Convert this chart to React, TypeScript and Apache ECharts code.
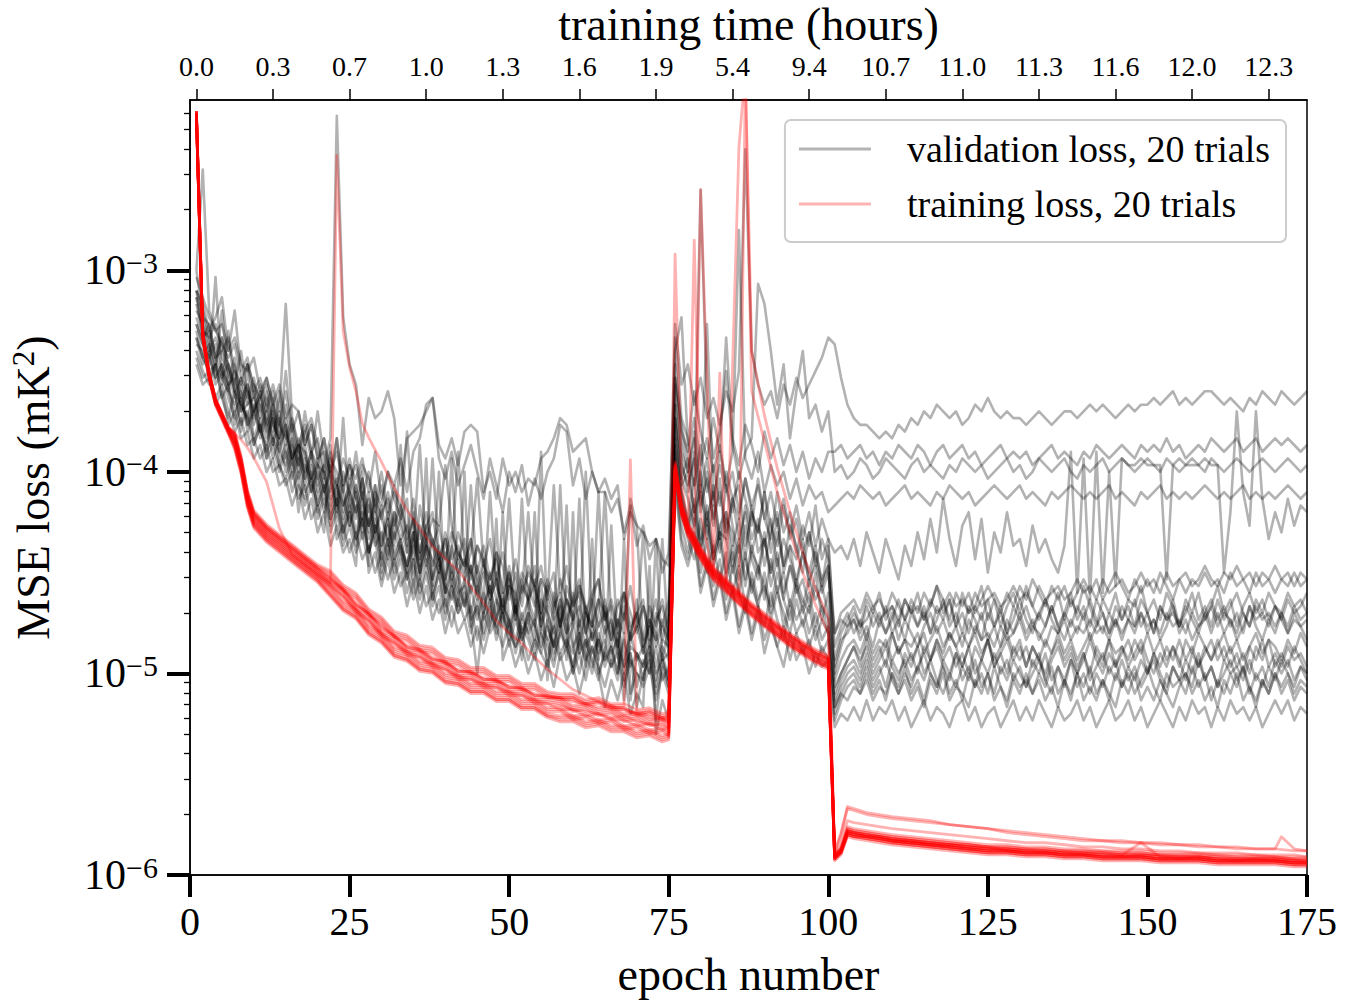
import React, { useEffect, useRef } from 'react';
import * as echarts from 'echarts';

const FONT = "'Liberation Serif', 'Times New Roman', serif";
const VAL_NAME = 'validation loss, 20 trials';
const TRN_NAME = 'training loss, 20 trials';

// top axis: epoch positions of the ticks and their training-time labels (hours)
const TOP_TICK_EPOCHS = [1, 13, 25, 37, 49, 61, 73, 85, 97, 109, 121, 133, 145, 157, 169];
const TOP_TICK_HOURS = ['0.0', '0.3', '0.7', '1.0', '1.3', '1.6', '1.9', '5.4', '9.4', '10.7', '11.0', '11.3', '11.6', '12.0', '12.3'];
// left axis: decades and minor ticks (loss values, mK^2)
const Y_MAJOR = [1e-6, 1e-5, 1e-4, 1e-3];
const Y_MINOR = [2e-6, 3e-6, 4e-6, 5e-6, 6e-6, 7e-6, 8e-6, 9e-6, 2e-5, 3e-5, 4e-5, 5e-5, 6e-5, 7e-5, 8e-5, 9e-5,
  2e-4, 3e-4, 4e-4, 5e-4, 6e-4, 7e-4, 8e-4, 9e-4, 2e-3, 3e-3, 4e-3, 5e-3, 6e-3];

// Validation loss per trial.
// Unit: code c means loss = 10^-(2 + c/30). Three parts: epochs 1-75, 76-100, 101-175.
const VAL_01 = [
  [30,37,41,44,40,47,46,51,48,53,50,55,52,56,54,58,56,60,57,61,59,55,7,37,44,47,56,49,52,51,48,52,62,55,54,53,51,49,56,58,55,59,54,53,54,63,60,64,58,62,60,63,61,62,58,57,55,52,53,57,56,55,60,63,61,64,62,70,66,68,69,71,70,73,74],
  [38,47,44,50,46,52,49,53,48,51,45,12,42,47,50,48,52,47,50,46,49,47,45,43,40],
  [41,46,50,52,53,53,54,55,54,55,53,54,52,53,51,52,50,51,52,51,53,52,50,51,49,51,52,51,52,52,53,52,51,52,53,52,51,51,52,51,50,51,50,51,52,51,50,51,50,50,49,50,49,48,50,49,50,49,48,48,49,50,49,50,51,49,50,48,49,50,48,49,50,49,48]];
const VAL_02 = [
  [30,15,36,39,41,43,41,46,44,47,49,46,50,53,48,54,51,56,53,58,57,60,55,62,59,61,58,63,57,64,60,62,58,63,57,55,50,49,58,61,57,62,59,56,60,64,58,62,66,60,63,59,65,61,64,60,58,53,54,62,58,64,60,63,63,66,64,69,65,71,68,73,70,75,72],
  [42,37,56,48,54,58,52,57,40,55,59,53,56,60,54,58,55,59,56,60,57,61,58,60,57],
  [57,56,58,57,56,58,57,59,57,58,56,57,58,56,57,59,57,56,58,57,56,58,57,59,58,57,56,58,57,58,57,59,58,57,56,58,57,58,59,57,58,56,57,58,57,56,57,58,56,57,56,57,55,57,56,58,57,56,57,55,56,57,56,55,57,56,55,57,56,55,56,55,56,57,56]];
const VAL_03 = [
  [34,37,38,43,40,44,47,42,49,46,51,48,53,55,50,56,59,54,58,62,58,61,65,60,63,66,61,68,63,65,70,64,67,71,66,72,68,66,73,70,75,69,72,76,71,73,78,72,74,79,75,80,74,77,81,76,79,83,77,80,78,84,79,76,82,85,80,78,84,81,79,86,82,80,85],
  [40,52,55,62,18,50,58,54,45,56,61,57,55,32,35,42,50,44,55,48,42,52,50,54,51],
  [60,59,61,60,58,59,61,60,58,59,60,61,59,58,60,59,60,61,59,60,58,59,60,59,61,60,59,58,60,59,61,60,58,59,60,59,58,60,61,59,60,59,58,60,59,58,59,60,59,58,59,60,58,59,60,59,58,59,60,58,59,60,59,58,59,60,59,58,59,60,59,58,59,60,59]];
const VAL_04 = [
  [38,41,44,39,46,48,44,51,50,47,54,50,56,52,58,55,60,57,63,59,64,61,66,62,68,63,69,65,70,66,72,67,71,74,69,75,70,76,72,78,73,77,80,74,78,81,75,79,83,76,82,78,84,79,83,80,86,79,84,82,87,81,85,83,79,86,82,88,84,81,87,83,89,85,86],
  [44,54,57,52,59,55,60,56,62,57,24,58,61,57,63,59,62,60,64,61,65,62,64,63,66],
  [65,64,63,64,62,63,64,63,65,64,63,62,64,63,64,65,63,64,62,63,64,63,65,64,63,62,63,64,63,62,64,63,64,65,63,64,63,62,63,64,63,64,63,62,64,63,64,65,63,64,63,62,64,63,64,63,64,63,62,63,64,63,64,63,62,64,63,64,63,64,63,62,63,64,63]];
const VAL_05 = [
  [33,35,39,37,34,42,40,45,43,48,46,50,47,51,35,52,56,53,57,55,60,57,62,58,61,59,64,60,66,62,67,63,65,69,64,70,66,71,68,73,69,72,74,70,75,71,76,73,78,74,79,75,77,80,76,78,81,76,79,82,77,80,83,79,81,84,79,82,77,83,80,85,81,83,79],
  [46,57,60,55,62,38,64,59,63,60,66,61,65,62,67,63,68,64,69,65,70,66,71,67,70],
  [72,71,73,70,74,69,72,75,70,73,76,71,74,69,73,67,72,64,70,74,68,66,73,67,75,69,72,66,71,70,74,68,72,70,73,75,71,57,78,58,79,57,78,60,77,58,59,59,58,59,59,59,76,59,58,59,59,59,58,59,59,75,66,51,63,68,51,64,70,66,69,64,68,65,66]];
const VAL_06 = [
  [40,44,42,47,45,49,52,48,54,51,56,53,58,55,60,57,63,59,61,65,62,67,64,69,65,70,66,72,68,71,67,73,70,75,71,76,72,78,74,77,79,75,80,77,82,78,83,79,81,85,80,84,82,86,81,85,83,88,82,86,84,89,83,87,85,88,84,90,86,87,89,85,91,86,88],
  [50,58,63,57,66,60,68,61,70,64,62,71,66,69,63,72,67,74,68,71,75,69,73,77,71],
  [84,82,83,81,83,82,80,82,81,80,82,79,81,80,82,79,81,80,78,80,79,81,78,80,79,78,80,79,77,79,78,80,77,79,78,77,79,78,76,78,77,79,76,78,77,76,78,77,75,77,76,78,75,77,76,75,77,76,74,76,77,75,76,74,76,75,77,75,76,74,76,75,77,75,76]];
const VAL_07 = [
  [35,39,40,45,41,46,43,49,47,51,48,53,50,55,52,58,55,61,57,59,63,60,62,66,61,64,68,63,69,66,64,70,67,72,68,73,69,71,75,70,76,72,74,70,77,73,78,75,80,74,81,76,79,77,82,78,75,83,79,81,84,78,82,86,80,83,87,81,85,79,86,82,84,88,83],
  [52,61,58,66,60,67,63,70,62,68,72,65,70,67,74,69,66,75,71,73,70,77,72,76,74],
  [88,84,82,80,83,79,81,78,82,80,83,79,81,78,82,80,77,81,79,83,78,81,80,77,82,79,83,80,78,81,77,80,82,79,81,78,82,79,81,77,80,83,79,81,78,82,79,80,77,81,79,82,78,80,83,79,81,78,82,80,77,81,79,83,80,78,81,79,82,80,81,78,80,79,81]];
const VAL_08 = [
  [41,42,46,44,49,47,53,50,52,56,53,58,55,59,61,58,62,64,60,66,63,68,65,70,66,71,67,72,69,74,70,75,72,76,73,78,74,79,75,81,77,80,78,83,79,82,80,85,81,84,86,82,84,87,83,85,88,83,86,89,84,87,90,85,88,91,86,89,87,92,88,90,86,91,89],
  [55,63,67,61,70,65,72,68,66,74,70,76,71,75,69,77,73,79,74,78,76,80,75,82,78],
  [90,86,83,82,84,80,83,81,84,82,79,82,80,83,81,84,80,82,79,83,81,84,80,82,79,83,81,84,80,82,80,83,81,79,82,84,81,83,80,82,79,82,84,81,83,80,82,79,83,81,84,80,82,81,83,80,82,84,81,79,82,80,83,81,84,80,82,81,83,80,82,84,81,83,82]];
const VAL_09 = [
  [37,40,39,43,46,44,48,50,47,52,49,54,51,54,45,54,59,56,61,58,63,59,65,61,66,62,67,64,69,65,71,66,70,68,73,68,74,70,73,76,71,75,73,78,74,79,74,77,80,75,81,77,79,82,76,81,78,83,79,82,80,84,79,83,81,85,82,84,64,80,86,83,85,82,87],
  [47,55,60,54,63,58,65,57,62,66,60,64,68,61,67,70,63,69,66,72,68,71,65,73,70],
  [86,83,81,84,82,85,81,83,80,84,82,85,81,83,80,84,82,79,83,81,84,80,82,85,81,83,80,84,82,79,82,84,81,83,80,83,81,78,82,80,83,79,81,84,80,82,80,83,79,81,84,80,82,79,83,81,78,82,80,83,79,82,80,78,81,83,79,81,78,80,82,79,81,80,78]];
const VAL_10 = [
  [39,43,41,46,44,47,51,49,53,50,55,52,56,58,54,60,57,62,59,64,61,66,63,68,64,69,65,70,67,72,68,73,71,74,70,75,72,77,73,78,75,79,76,81,77,80,77,82,78,83,79,84,81,85,80,83,86,81,85,87,82,86,84,88,83,87,85,89,84,88,86,90,85,88,87],
  [52,62,60,66,63,68,62,70,66,71,67,73,65,72,70,75,69,74,71,77,72,76,74,78,75],
  [84,81,80,79,81,78,80,79,81,78,80,82,79,81,78,80,77,79,82,78,80,78,81,79,77,79,81,78,80,77,79,76,78,80,77,79,77,80,78,76,78,76,79,77,75,77,79,76,78,76,78,75,77,79,76,78,76,77,75,77,76,78,75,77,76,78,75,77,76,78,76,77,75,77,76]];
const VAL_11 = [
  [33,36,40,38,42,40,45,47,44,49,47,51,48,53,55,52,57,54,59,56,61,58,60,63,59,64,61,66,62,67,63,68,65,70,67,72,68,70,74,69,73,71,75,72,77,74,76,72,78,75,80,76,78,74,81,77,80,78,82,79,76,81,83,79,82,80,84,78,83,81,85,80,83,79,84],
  [56,63,68,64,71,66,73,69,70,75,71,77,72,74,79,73,78,75,80,76,79,81,77,80,82],
  [89,85,84,82,85,83,86,82,84,81,85,82,84,86,83,81,84,82,85,83,86,82,84,81,85,83,86,82,84,81,84,82,85,83,80,83,85,82,84,81,85,83,81,84,82,85,82,84,81,83,82,85,83,80,84,82,85,83,81,84,81,84,82,85,83,80,83,85,82,84,81,84,82,83,85]];
const VAL_12 = [
  [42,45,47,44,49,52,48,54,51,56,53,58,56,60,57,63,60,65,62,67,64,69,66,71,68,72,69,74,70,75,71,76,73,78,74,79,75,80,77,82,78,81,79,84,80,85,81,83,86,82,87,83,85,88,84,86,89,84,88,86,90,85,88,91,86,89,87,92,88,90,91,87,93,89,92],
  [58,66,70,73,67,75,71,76,72,78,74,80,75,79,77,82,78,81,84,79,83,80,85,82,84],
  [92,90,88,86,89,85,88,86,89,84,87,85,88,86,84,88,85,87,84,86,89,86,84,87,85,88,86,84,87,85,89,86,88,85,87,84,87,85,88,86,84,87,89,85,87,86,88,85,87,84,87,85,88,86,89,85,87,84,86,88,86,84,87,85,88,86,84,87,85,86,88,85,87,84,86]];
const VAL_13 = [
  [31,34,37,39,38,42,40,44,45,43,48,46,50,47,52,54,51,56,53,58,55,60,57,62,58,63,59,61,65,60,66,62,67,64,69,65,70,67,68,72,68,73,70,75,71,74,70,76,72,77,73,78,75,77,74,79,76,78,74,80,77,81,78,76,82,79,83,78,81,84,80,83,79,85,81],
  [46,53,58,62,56,63,59,65,60,64,67,61,66,69,63,68,71,65,70,67,72,69,74,70,73],
  [93,90,88,86,88,86,89,87,85,88,86,89,87,90,86,88,85,88,86,89,87,90,86,88,85,89,87,85,88,86,89,86,88,90,87,85,88,86,89,87,90,86,88,85,89,87,85,88,86,90,87,89,86,88,85,88,86,89,87,85,88,86,89,87,90,86,88,85,89,87,89,86,88,87,89]];
const VAL_14 = [
  [43,46,45,49,47,51,54,52,56,55,58,56,60,59,62,60,64,62,67,65,69,66,70,68,72,69,73,71,75,72,76,73,77,75,79,76,80,78,81,79,83,79,82,80,85,81,84,82,87,83,86,84,88,85,87,89,85,88,86,90,87,91,86,89,92,88,91,89,93,90,92,89,94,90,93],
  [60,68,72,67,75,70,77,73,79,74,78,81,76,80,83,78,82,85,80,84,82,86,83,87,85],
  [94,91,89,88,90,87,90,88,86,89,91,87,89,86,90,88,86,89,91,87,89,86,90,88,85,89,87,90,86,88,86,89,87,91,88,86,89,87,90,88,85,88,90,87,89,86,89,87,85,88,90,87,89,86,88,91,87,89,86,88,85,88,86,89,87,90,86,88,85,89,87,89,86,88,90]];
const VAL_15 = [
  [36,38,42,40,43,45,49,46,48,51,49,53,52,55,53,58,56,57,61,59,60,64,62,65,63,67,64,68,65,70,66,71,68,72,69,74,71,73,75,72,77,73,76,74,79,75,79,76,81,77,82,78,80,83,79,81,84,79,83,80,85,81,83,79,84,82,86,81,85,83,87,82,86,83,85],
  [53,61,64,68,62,70,65,72,67,69,74,68,73,76,70,75,72,78,74,77,80,76,79,77,81],
  [95,92,90,89,91,88,91,89,92,88,90,88,91,89,87,90,92,88,90,87,91,89,92,88,90,87,90,88,91,89,92,88,90,87,91,89,92,88,90,87,91,89,87,90,88,92,89,91,88,90,87,90,92,89,91,88,90,87,91,89,92,88,90,89,91,88,91,89,92,88,90,88,91,89,90]];
const VAL_16 = [
  [33,39,43,41,45,47,45,50,52,48,54,51,55,57,53,59,56,61,58,63,60,65,62,67,63,68,64,69,66,71,67,72,70,74,69,75,71,76,73,78,74,78,77,80,76,81,77,82,79,84,80,85,81,83,86,82,87,84,86,83,88,84,87,85,89,86,90,84,94,87,89,86,97,88,91],
  [57,65,69,66,72,68,74,70,76,72,78,73,77,80,75,81,77,83,79,82,80,84,81,85,83],
  [96,93,91,90,92,89,92,90,88,91,93,90,92,89,91,88,91,93,90,92,89,91,88,92,90,93,89,91,88,90,92,90,88,91,93,89,91,88,92,90,93,90,92,89,91,88,91,89,92,90,88,91,93,89,91,90,92,88,91,89,92,90,88,91,89,93,90,92,89,91,88,90,92,89,91]];
const VAL_17 = [
  [40,43,45,44,47,50,48,53,51,55,52,57,55,59,56,61,58,63,61,65,62,67,64,69,66,70,67,72,68,73,70,74,71,76,73,77,74,79,75,80,77,81,78,82,80,84,79,83,81,86,82,85,83,87,84,88,83,87,85,89,85,88,86,90,87,89,86,91,87,95,90,88,92,87,91],
  [61,70,73,69,77,73,79,75,81,77,83,79,84,80,85,82,86,83,88,84,87,85,89,86,88],
  [97,94,92,91,93,90,93,91,94,90,92,89,93,91,94,90,92,89,93,91,94,90,92,90,93,89,92,94,90,92,91,93,90,92,89,93,91,94,90,92,89,93,91,94,90,92,90,93,91,89,92,94,90,92,91,93,89,92,90,94,91,93,90,92,89,92,94,91,93,90,92,90,93,91,92]];
const VAL_18 = [
  [34,40,38,43,42,44,48,46,50,49,52,49,54,51,56,53,58,60,57,62,59,63,61,65,62,66,63,68,64,67,70,66,68,72,67,73,70,74,71,76,72,77,73,75,78,74,79,76,81,77,78,82,79,76,83,79,82,80,84,78,83,80,85,81,84,82,86,80,85,83,87,82,85,81,86],
  [50,59,62,58,65,61,67,63,69,64,70,66,72,68,71,67,74,70,73,76,72,75,71,77,74],
  [91,88,86,85,87,84,87,85,86,84,87,85,86,84,87,85,83,86,84,86,84,86,83,85,84,86,83,85,84,82,85,83,84,86,83,84,82,85,83,84,82,84,83,85,82,84,82,83,81,84,82,84,81,83,82,84,81,83,82,80,83,81,82,84,81,83,80,82,81,83,81,83,80,82,81]];
const VAL_19 = [
  [38,41,43,46,44,48,50,47,53,51,54,56,52,57,59,56,61,58,63,60,66,62,67,64,68,65,70,67,71,69,73,69,72,75,71,76,73,77,74,79,76,80,77,82,78,81,79,84,80,82,85,81,84,82,87,83,86,82,88,84,87,85,89,84,88,86,90,85,89,87,91,86,90,88,92],
  [56,64,68,65,71,67,73,69,75,71,76,72,78,74,77,80,75,79,82,77,81,78,83,80,84],
  [95,93,94,92,93,91,94,92,93,90,93,91,94,92,95,91,93,90,94,92,93,95,91,93,90,94,92,95,91,93,90,93,91,94,92,95,91,93,90,94,92,94,91,93,95,91,93,90,94,92,94,91,93,95,92,90,93,91,94,92,95,91,93,90,94,92,95,91,93,90,93,91,94,92,93]];
const VAL_20 = [
  [44,47,46,50,48,53,51,55,54,58,56,60,58,62,61,65,62,67,64,69,66,71,68,72,70,74,71,75,72,77,73,78,75,80,76,81,77,82,79,84,80,84,82,86,83,87,83,86,88,85,89,86,90,87,91,88,92,87,91,89,93,89,92,90,95,91,94,90,96,93,95,92,99,94,97],
  [62,71,74,70,78,74,80,76,82,78,84,80,85,81,87,83,86,89,84,88,86,90,87,89,88],
  [98,96,97,95,97,94,97,95,96,94,97,95,98,96,94,97,95,96,98,95,94,97,95,98,96,95,98,96,94,97,95,97,94,96,98,95,97,96,94,97,95,98,96,94,97,96,94,97,95,98,96,94,96,98,95,97,94,96,95,98,95,97,94,96,95,97,95,98,96,94,96,94,97,95,96]];

// single-epoch jumps of the validation curves in epochs 1-75: [epoch, code]
const VAL_JUMPS = [
  [], [],
  [[8, 42], [20, 51], [31, 60]],
  [[4, 31], [21, 55], [30, 76], [41, 58], [53, 66]],
  [[7, 36], [28, 60], [50, 64]],
  [[11, 48], [17, 66], [36, 56], [58, 62]],
  [[5, 36], [34, 54], [62, 60], [68, 94]],
  [[13, 49], [43, 60], [66, 68]],
  [[24, 52], [47, 63], [56, 91], [70, 68]],
  [[14, 48], [38, 58], [55, 57], [73, 70]],
  [[19, 52], [45, 61], [52, 88], [64, 63]],
  [[9, 44], [29, 62], [59, 65]],
  [[16, 50], [35, 78], [40, 59], [57, 62]],
  [[22, 56], [49, 66], [68, 70]],
  [[12, 47], [33, 56], [52, 64], [60, 90], [71, 69]],
  [[26, 57], [44, 62], [61, 64]],
  [[6, 39], [37, 58], [54, 66]],
  [[18, 51], [42, 57], [65, 63], [74, 70]],
  [[23, 55], [39, 60], [45, 90], [60, 66]],
  [[27, 60], [48, 67], [63, 70], [72, 74]],
];

// Training loss per trial at these epochs.
// Unit: code c means loss = 10^-(c/100). Extra points hold single-epoch spikes.
const TRN_EPOCHS_A = [1,2,3,4,5,6,7,8,9,10,12,14,16,18,20,22,24,26,28,30,32,34,36,38,40,42,44,46,48,50,52,54,56,58,60,62,64,66,68,70,72,74,75];
const TRN_EPOCHS_B = [76,77,78,79,80,82,84,86,88,90,92,94,96,98,100];
const TRN_EPOCHS_C = [101,102,103,104,106,108,110,113,116,119,122,125,128,131,134,137,140,143,146,149,152,155,158,161,164,167,170,173,175];

const TRN_01 = [
  [222,332,352,365,372,379,384,396,413,423,430,435,440,445,450,455,330,360,383,395,408,419,428,437,443,449,457,465,474,480,485,492,498,503,508,511,514,516,518,520,522,523,524],
  [398,419,428,435,440,451,456,463,468,474,478,484,487,492,494],
  [591,588,578,579,580,581,582,583,584,585,586,587,587,588,588,589,589,590,590,590,591,591,591,592,592,592,592,593,593],
  [[23,243],[25,348],[27,376]]];
const TRN_02 = [
  [222,332,352,365,372,379,381,384,388,393,405,428,441,446,451,456,462,468,474,480,485,489,492,495,498,501,503,505,507,509,511,513,515,516,518,519,520,522,521,524,525,526,527],
  [399,419,429,435,441,451,457,463,469,474,479,484,488,492,495],
  [591,588,579,580,581,582,583,584,585,586,587,588,588,589,589,590,590,591,591,591,592,592,592,593,593,593,593,594,594],
  []];
const TRN_03 = [
  [221,331,351,364,371,378,382,394,411,421,428,433,438,443,448,453,459,466,470,477,481,487,489,493,494,499,499,503,503,507,507,511,511,513,513,516,515,518,518,521,520,523,522],
  [292,405,427,433,439,449,455,461,467,472,477,482,486,490,493],
  [590,587,577,578,579,580,581,582,583,584,585,586,586,587,587,588,588,589,589,589,590,590,590,591,591,591,591,592,592],
  []];
const TRN_04 = [
  [223,333,353,366,373,380,387,399,416,426,433,438,443,448,453,459,466,470,478,482,489,491,496,497,502,503,507,507,511,511,515,515,519,519,523,522,525,524,528,527,530,529,531],
  [400,420,430,285,420,452,458,464,470,475,480,485,489,493,496],
  [592,589,580,581,581,582,583,584,585,586,587,588,588,589,589,590,590,591,591,591,592,592,592,593,593,593,593,594,594],
  []];
const TRN_05 = [
  [221,331,351,364,371,378,381,393,410,420,427,432,437,442,447,451,458,462,470,474,481,483,488,489,494,495,499,499,503,503,507,507,511,512,512,515,514,517,517,520,519,522,521],
  [397,417,427,433,260,448,455,461,467,472,477,481,486,490,493],
  [590,587,577,578,579,580,581,582,583,584,585,586,586,587,587,588,588,588,589,589,590,590,590,590,591,591,591,592,592],
  []];
const TRN_06 = [
  [222,332,352,365,372,379,385,397,414,424,431,436,441,446,451,457,462,470,474,482,485,491,492,497,498,503,503,507,507,511,511,515,515,518,518,521,520,523,523,526,525,528,527],
  [399,419,429,435,441,451,457,239,340,372,398,420,440,458,472],
  [591,588,579,580,581,582,583,584,585,586,587,588,588,589,589,590,590,591,591,591,592,592,592,593,593,593,593,594,594],
  [[87,200]]];
const TRN_07 = [
  [222,332,352,365,372,379,383,395,412,422,429,434,439,444,449,454,458,466,470,478,481,487,488,493,494,499,499,503,503,507,507,511,511,512,516,515,518,517,521,520,523,522,524],
  [398,418,428,434,440,450,456,462,360,385,410,430,450,466,480],
  [591,588,578,579,580,581,582,583,584,585,586,587,587,588,588,589,589,589,590,590,591,591,591,592,592,592,592,593,593],
  [[87,205]]];
const TRN_08 = [
  [223,333,353,366,373,380,388,400,417,427,434,439,444,449,454,461,468,472,480,484,491,493,498,499,504,505,509,509,513,513,517,517,521,522,522,525,524,527,527,530,529,532,531],
  [401,421,431,437,443,453,459,465,471,476,481,486,490,494,497],
  [592,589,580,581,582,583,584,585,586,587,588,589,589,590,590,591,591,592,592,592,593,593,593,594,594,594,594,595,595],
  [[83,351]]];
const TRN_09 = [
  [221,331,351,364,371,378,381,393,410,420,427,432,437,442,447,450,457,461,469,473,480,482,487,488,493,494,498,498,502,502,506,506,510,511,511,514,513,516,516,519,518,521,520],
  [396,416,426,432,438,448,454,460,466,471,476,481,485,489,492],
  [589,580,567,568,570,571,572,573,574,575,576,577,579,580,581,582,583,583,584,584,585,585,586,586,587,587,587,588,588],
  [[69,394]]];
const TRN_10 = [
  [222,332,352,365,372,379,385,397,414,424,431,436,441,446,451,456,461,469,473,481,484,490,491,496,497,502,502,506,506,510,510,514,514,515,519,518,521,520,524,523,526,525,527],
  [398,418,428,434,440,450,456,462,468,473,478,483,487,491,494],
  [591,588,578,579,580,581,582,583,584,585,586,587,587,588,588,589,589,590,590,584,591,591,591,592,592,592,592,593,593],
  []];
const TRN_11 = [
  [222,332,352,365,372,379,383,395,412,422,429,434,439,444,449,455,459,467,471,479,482,488,489,494,495,500,500,504,504,508,508,512,512,513,517,516,519,518,522,521,524,523,525],
  [397,417,427,433,439,449,455,461,467,472,477,482,486,490,493],
  [590,587,578,579,580,581,582,583,584,585,585,586,587,587,588,588,589,589,590,590,590,591,591,591,592,592,592,592,593],
  []];
const TRN_12 = [
  [223,333,353,366,373,380,386,398,415,425,432,437,442,447,452,458,465,469,477,481,488,490,495,496,501,502,506,506,510,510,514,514,518,518,522,521,524,523,527,526,529,528,530],
  [400,420,430,436,442,452,458,464,470,475,480,485,489,493,496],
  [592,589,579,580,581,582,583,584,585,586,587,588,588,589,589,590,590,591,591,591,592,592,592,593,593,593,593,594,594],
  []];
const TRN_13 = [
  [221,331,351,364,371,378,382,394,411,421,428,433,438,443,448,452,459,463,471,475,482,484,489,490,495,496,500,500,504,504,508,508,512,512,512,515,514,517,517,520,519,522,521],
  [396,416,426,432,438,448,454,460,466,471,476,481,485,489,492],
  [590,584,573,574,575,576,577,578,579,580,581,582,583,584,584,585,586,586,587,587,588,588,589,589,589,590,590,590,591],
  []];
const TRN_14 = [
  [223,333,353,366,373,380,387,399,416,426,433,438,443,448,453,460,467,471,479,483,490,492,497,498,503,504,508,508,512,512,516,516,520,521,521,524,523,526,526,529,528,531,530],
  [401,421,431,437,443,453,459,465,471,476,481,486,490,494,497],
  [592,589,580,581,582,583,584,585,586,587,588,589,589,590,590,591,591,592,592,592,593,593,593,594,594,594,594,595,595],
  []];
const TRN_15 = [
  [221,331,351,364,371,378,380,392,409,419,426,431,436,441,446,449,456,460,468,472,479,481,486,487,492,493,497,497,501,501,505,505,509,510,510,513,512,515,515,518,517,520,519],
  [395,415,425,431,437,447,453,459,465,470,475,480,484,488,491],
  [588,579,566,567,569,570,571,572,573,575,576,577,578,579,580,581,582,583,583,584,584,585,585,586,586,587,587,587,588],
  [[171,581]]];
const TRN_16 = [
  [222,332,352,365,372,379,384,396,413,423,430,435,440,445,450,455,460,468,472,480,483,489,490,495,496,501,501,505,505,509,509,513,513,514,518,517,520,519,523,522,525,524,526],
  [399,418,429,434,441,450,457,462,469,473,479,483,488,491,495],
  [591,587,579,579,581,581,583,583,585,585,586,586,588,588,589,589,590,590,591,590,591,592,591,592,593,592,593,593,594],
  []];
const TRN_17 = [
  [223,333,353,366,373,380,386,398,415,425,432,437,442,447,452,457,464,468,476,480,487,489,494,495,500,501,505,505,509,509,513,513,517,517,521,520,523,522,526,525,528,527,529],
  [400,419,430,435,442,451,458,463,470,474,480,484,489,492,496],
  [591,588,579,580,581,582,583,584,585,586,587,587,588,589,589,590,590,591,591,591,592,592,592,593,593,593,593,594,594],
  []];
const TRN_18 = [
  [224,334,354,367,374,381,389,401,418,428,435,440,445,450,455,462,469,473,481,485,492,494,499,500,505,506,510,510,514,514,518,518,522,524,524,527,526,529,529,532,531,534,533],
  [402,422,432,438,444,454,460,466,472,477,482,487,491,495,498],
  [593,590,581,582,583,584,585,586,587,588,589,590,590,591,591,592,592,593,593,593,594,594,594,595,595,595,595,596,596],
  []];
const TRN_19 = [
  [221,331,351,364,371,378,382,394,411,421,428,433,438,443,448,453,458,465,471,476,482,486,488,492,495,498,500,502,504,506,508,510,512,512,514,515,517,516,520,519,521,522,523],
  [397,417,427,433,439,449,455,461,467,472,477,482,486,490,493],
  [590,586,576,577,578,579,580,581,582,583,584,585,585,586,586,587,587,588,588,588,589,589,589,590,590,590,591,591,591],
  []];
const TRN_20 = [
  [224,334,354,367,374,381,388,400,417,427,434,439,444,449,454,461,468,472,480,484,491,493,498,499,504,505,509,509,513,513,517,517,521,523,523,526,525,528,528,531,530,533,532],
  [401,421,431,437,443,453,459,465,471,476,481,486,490,494,497],
  [592,589,580,581,582,583,584,585,586,587,588,589,589,590,590,591,591,592,592,592,593,593,593,594,594,594,594,595,595],
  []];

const VAL_TRIALS = [VAL_01, VAL_02, VAL_03, VAL_04, VAL_05, VAL_06, VAL_07, VAL_08, VAL_09, VAL_10,
  VAL_11, VAL_12, VAL_13, VAL_14, VAL_15, VAL_16, VAL_17, VAL_18, VAL_19, VAL_20];
const TRN_TRIALS = [TRN_01, TRN_02, TRN_03, TRN_04, TRN_05, TRN_06, TRN_07, TRN_08, TRN_09, TRN_10,
  TRN_11, TRN_12, TRN_13, TRN_14, TRN_15, TRN_16, TRN_17, TRN_18, TRN_19, TRN_20];

// the plot's value axis is in decades: log10(loss)
const valLog = (c: number) => -(2 + c / 30);
const trnLog = (c: number) => -c / 100;

function valPoints(t: number[][], jumps: number[][]) {
  const p1 = t[0].slice();
  jumps.forEach((j) => { if (j[0] >= 1 && j[0] <= p1.length) p1[j[0] - 1] = j[1]; });
  const pts: number[][] = [];
  p1.forEach((c, i) => pts.push([1 + i, valLog(c)]));
  t[1].forEach((c, i) => pts.push([76 + i, valLog(c)]));
  t[2].forEach((c, i) => pts.push([101 + i, valLog(c)]));
  return pts;
}

function trnPoints(t: any[]) {
  const pts: number[][] = [];
  const grids = [TRN_EPOCHS_A, TRN_EPOCHS_B, TRN_EPOCHS_C];
  for (let p = 0; p < 3; p++) {
    const vals: number[] = t[p];
    const eps = grids[p];
    for (let i = 0; i < Math.min(vals.length, eps.length); i++) pts.push([eps[i], trnLog(vals[i])]);
  }
  (t[3] as number[][]).forEach((e) => pts.push([e[0], trnLog(e[1])]));
  pts.sort((a, b) => a[0] - b[0]);
  return pts;
}

function buildOption() {
  const VAL_COLOR = 'rgba(0,0,0,0.3)';
  const TRN_COLOR = 'rgba(255,0,0,0.3)';
  const series: any[] = [];
  VAL_TRIALS.forEach((t, k) => series.push({
    type: 'line', name: VAL_NAME, data: valPoints(t, VAL_JUMPS[k] || []), xAxisIndex: 0, yAxisIndex: 0,
    symbol: 'none', showSymbol: false, silent: true, clip: true, z: 2,
    color: VAL_COLOR, lineStyle: { color: VAL_COLOR, width: 2.6, join: 'round' },
    emphasis: { disabled: true },
  }));
  TRN_TRIALS.forEach((t) => series.push({
    type: 'line', name: TRN_NAME, data: trnPoints(t), xAxisIndex: 0, yAxisIndex: 0,
    symbol: 'none', showSymbol: false, silent: true, clip: true, z: 3,
    color: TRN_COLOR, lineStyle: { color: TRN_COLOR, width: 2.8, join: 'round' },
    emphasis: { disabled: true },
  }));

  const majorLog = Y_MAJOR.map((v) => Math.log10(v));
  const minorLog = Y_MINOR.map((v) => Math.log10(v));
  const black = '#000000';

  return {
    animation: false,
    backgroundColor: '#ffffff',
    textStyle: { fontFamily: FONT, color: black },
    grid: {
      left: 190, right: 47, top: 100, bottom: 129,
      show: true, borderColor: black, borderWidth: 1.5, backgroundColor: 'transparent',
      outerBoundsMode: 'none', containLabel: false,
    },
    legend: {
      show: true, orient: 'vertical', right: 68, top: 120,
      data: [
        { name: VAL_NAME, icon: 'rect', itemStyle: { color: '#b3b3b3' } },
        { name: TRN_NAME, icon: 'rect', itemStyle: { color: '#ffb3b3' } },
      ],
      itemWidth: 72, itemHeight: 3, itemGap: 17,
      padding: [10, 16, 19, 14],
      textStyle: { fontSize: 38, color: black, fontFamily: FONT, padding: [0, 0, 0, 31] },
      backgroundColor: 'rgba(255,255,255,0.8)', borderColor: '#cccccc', borderWidth: 2, borderRadius: 6,
      selectedMode: false,
    },
    xAxis: [
      {
        type: 'value', position: 'bottom', min: 0, max: 175, interval: 25,
        axisLine: { show: true, lineStyle: { color: black, width: 1.5 } },
        axisTick: { show: true, length: 22, lineStyle: { color: black, width: 4 } },
        axisLabel: { fontSize: 40, color: black, fontFamily: FONT, margin: 26 },
        splitLine: { show: false },
        name: 'epoch number', nameLocation: 'middle', nameGap: 76,
        nameTextStyle: { fontSize: 46, color: black, fontFamily: FONT },
      },
      {
        type: 'value', position: 'top', min: 0, max: 175,
        axisLine: { show: true, lineStyle: { color: black, width: 1.5 } },
        axisTick: { show: true, customValues: TOP_TICK_EPOCHS, length: 11, lineStyle: { color: black, width: 1.5 } },
        axisLabel: {
          customValues: TOP_TICK_EPOCHS, fontSize: 28, color: black, fontFamily: FONT, margin: 20,
          formatter: (v: number) => {
            const i = TOP_TICK_EPOCHS.indexOf(Math.round(v));
            return i >= 0 ? TOP_TICK_HOURS[i] : '';
          },
        },
        splitLine: { show: false },
        name: 'training time (hours)', nameLocation: 'middle', nameGap: 50,
        nameTextStyle: { fontSize: 46, color: black, fontFamily: FONT },
      },
    ],
    yAxis: [
      {
        type: 'value', position: 'left', min: -6, max: Math.log10(0.007),
        axisLine: { show: true, lineStyle: { color: black, width: 1.5 } },
        axisTick: { show: true, customValues: majorLog, length: 23, lineStyle: { color: black, width: 4 } },
        axisLabel: {
          customValues: majorLog, margin: 32,
          formatter: (v: number) => '{b|10}{s|\u2212' + Math.round(-v) + '}',
          rich: {
            b: { fontSize: 42, fontFamily: FONT, color: black, lineHeight: 46 },
            s: { fontSize: 30, fontFamily: FONT, color: black, lineHeight: 32, verticalAlign: 'top' },
          },
        },
        splitLine: { show: false },
        name: '{a|MSE loss (mK}{s|2}{a|)}', nameLocation: 'middle', nameGap: 132,
        nameTextStyle: {
          fontSize: 46, color: black, fontFamily: FONT,
          rich: {
            a: { fontSize: 46, fontFamily: FONT, color: black, lineHeight: 50 },
            s: { fontSize: 31, fontFamily: FONT, color: black, lineHeight: 34, verticalAlign: 'top' },
          },
        },
      },
      {
        type: 'value', position: 'left', min: -6, max: Math.log10(0.007),
        axisLine: { show: false },
        axisTick: { show: true, customValues: minorLog, length: 6, lineStyle: { color: black, width: 1.3 } },
        axisLabel: { show: false },
        splitLine: { show: false },
      },
    ],
    series,
  };
}

export default function App() {
  const ref = useRef<HTMLDivElement>(null);
  useEffect(() => {
    if (!ref.current) return;
    const chart = echarts.init(ref.current, null, { renderer: 'svg' });
    chart.setOption(buildOption() as any);
    return () => chart.dispose();
  }, []);
  return (
    <div
      ref={ref}
      style={{ position: 'fixed', left: 0, top: 0, width: 1354, height: 1004, background: '#ffffff' }}
    />
  );
}
